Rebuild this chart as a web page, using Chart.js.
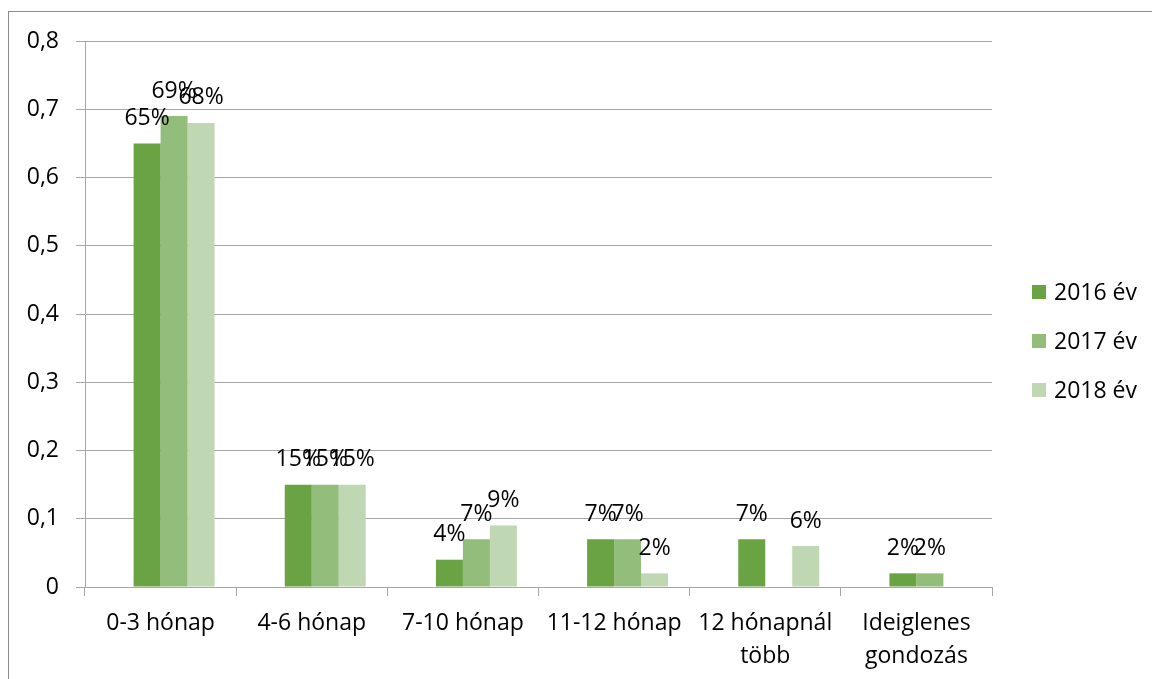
<!DOCTYPE html>
<html>
<head>
<meta charset="utf-8">
<script src="https://cdn.jsdelivr.net/npm/chart.js@4"></script>
<style>
  html, body { margin: 0; padding: 0; background: #fff; overflow: hidden; }
  #wrap { position: relative; width: 1152px; height: 679px; }
  #frame { position: absolute; left: 8px; top: 11px; width: 1200px; height: 720px; border: 1px solid #8c8c8c; box-sizing: border-box; }
  canvas { position: absolute; left: 0; top: 0; }
  #legend { position: absolute; left: 1032px; top: 275px; font: 23px "Open Sans", sans-serif; color: #000; }
  .item { height: 49px; display: flex; align-items: flex-start; }
  .box { width: 14px; height: 14px; margin-top: 10px; margin-right: 8px; }
</style>
</head>
<body>
<div id="wrap">
  <div id="frame"></div>
  <canvas id="c" width="1152" height="679"></canvas>
  <div id="legend"></div>
</div>
<script>
const CATEGORIES = ['0-3 hónap', '4-6 hónap', '7-10 hónap', '11-12 hónap', ['12 hónapnál', 'több'], ['Ideiglenes', 'gondozás']];
const SERIES = ['2016 év', '2017 év', '2018 év'];
// série vide en tête (occupe la 1re place de chaque groupe, comme dans l'original)
const BLANK = [null, null, null, null, null, null];
const Y2016 = [0.65, 0.15, 0.04, 0.07, 0.07, 0.02];
const Y2017 = [0.69, 0.15, 0.07, 0.07, null, 0.02];
const Y2018 = [0.68, 0.15, 0.09, 0.02, 0.06, null];
const COLORS = ['#6aa343', '#93bd7a', '#bfd7b3'];

const FONT = '"Open Sans", sans-serif';
const SIZE = 23;
const GRID = '#a6a6a6';

// étiquettes de valeurs au-dessus des barres
const valueLabels = {
  id: 'valueLabels',
  afterDatasetsDraw(chart) {
    const ctx = chart.ctx;
    ctx.save();
    ctx.font = SIZE + 'px ' + FONT;
    ctx.fillStyle = '#000';
    ctx.textAlign = 'center';
    ctx.textBaseline = 'middle';
    chart.data.datasets.forEach((ds, i) => {
      chart.getDatasetMeta(i).data.forEach((bar, j) => {
        const v = ds.data[j];
        if (v == null) return;
        ctx.fillText(Math.round(v * 100) + '%', bar.x, bar.y - 25);
      });
    });
    ctx.restore();
  },
};

new Chart(document.getElementById('c'), {
  type: 'bar',
  data: {
    labels: CATEGORIES,
    datasets: [
      { label: '', data: BLANK, backgroundColor: 'transparent' },
      ...[Y2016, Y2017, Y2018].map((d, i) => ({ label: SERIES[i], data: d, backgroundColor: COLORS[i] })),
    ].map(ds => ({ ...ds, categoryPercentage: 0.714, barPercentage: 1 })),
  },
  options: {
    responsive: false, animation: false,
    layout: { padding: { left: 26, right: 160, top: 41, bottom: 0 } },
    plugins: { legend: { display: false }, tooltip: { enabled: false } },
    scales: {
      x: {
        grid: { drawOnChartArea: false, color: GRID, tickLength: 9 },
        border: { color: GRID },
        ticks: { color: '#000', padding: 11, font: { family: FONT, size: SIZE, lineHeight: 1.43 }, maxRotation: 0, autoSkip: false },
        afterFit: s => { s.height = 92; },
      },
      y: {
        min: 0, max: 0.8,
        grid: { color: GRID, tickLength: 9 },
        border: { color: GRID },
        ticks: {
          stepSize: 0.1, color: '#000', padding: 17,
          font: { family: FONT, size: SIZE },
          callback: v => String(Math.round(v * 10) / 10).replace('.', ','),
        },
        afterFit: s => { s.width = 59; },
      },
    },
  },
  plugins: [valueLabels],
});

document.getElementById('legend').innerHTML = SERIES.map((s, i) => `
  <div class="item"><span class="box" style="background:${COLORS[i]}"></span><span>${s}</span></div>`).join('');
</script>
</body>
</html>
